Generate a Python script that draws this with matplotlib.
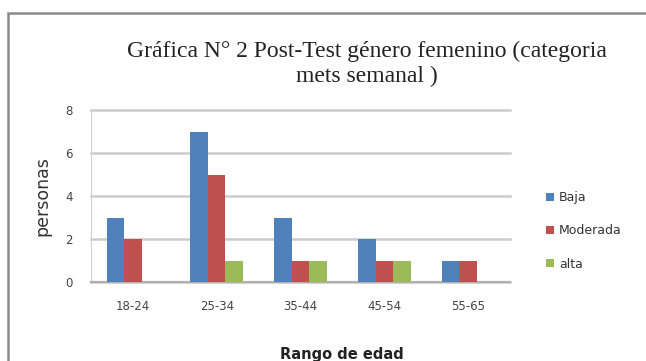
import matplotlib
matplotlib.use("Agg")
import matplotlib.pyplot as plt
import numpy as np
from matplotlib.patches import Rectangle, Patch

categories = ["18-24", "25-34", "35-44", "45-54", "55-65"]
baja = [3, 7, 3, 2, 1]
moderada = [2, 5, 1, 1, 1]
alta = [0, 1, 1, 1, 0]
series_names = ["Baja", "Moderada", "alta"]
colors = ["#4F81BD", "#C0504D", "#9BBB59"]
yticks = [0, 2, 4, 6, 8]

W, H = 646, 361
fig = plt.figure(figsize=(W / 100, H / 100), dpi=100)
fig.patch.set_facecolor("white")

# outer chart frame
fig.patches.append(Rectangle((8 / W, -0.05), 1.0, 1 - 13 / H + 0.05, transform=fig.transFigure,
                             fill=False, edgecolor="#8a8a8a", linewidth=1.8))

ax = fig.add_axes([91 / W, (H - 282) / H, 419 / W, 172 / H])
x = np.arange(len(categories))
w = 0.21
for i, (vals, c) in enumerate(zip([baja, moderada, alta], colors)):
    ax.bar(x + (i - 1) * w, vals, width=w, color=c, label=series_names[i], zorder=3)

ax.set_xlim(-0.5, len(categories) - 0.5)
ax.set_ylim(0, 8)
ax.set_yticks(yticks)
ax.set_xticks(x)
ax.set_xticklabels(categories, fontsize=8.5, color="#444444")
ax.tick_params(axis="y", labelsize=8.5, colors="#444444", length=0, pad=13)
ax.tick_params(axis="x", length=0, pad=13)
ax.grid(axis="y", color="#cccccc", linewidth=1.8, zorder=0)
for gl in ax.get_ygridlines():
    gl.set_clip_on(False)
for s in ["top", "right"]:
    ax.spines[s].set_visible(False)
ax.spines["left"].set_color("#d0d0d0")
ax.spines["bottom"].set_color("#b0b0b0")
ax.spines["bottom"].set_linewidth(1.6)

ax.set_ylabel("personas", fontsize=12.5, color="#333333", labelpad=10)
fig.text(342 / W, 1 - 354 / H, "Rango de edad", ha="center", va="center",
         fontsize=10.5, fontweight="bold", color="#222222")

fig.text(367 / W, 1 - 64 / H, "Gráfica N° 2 Post-Test género femenino (categoria\nmets semanal )",
         ha="center", va="center", fontsize=17, family="Liberation Serif", color="#222222",
         linespacing=1.2)

handles = [Patch(facecolor=c, edgecolor="none") for c in colors]
fig.legend(handles, series_names, loc="center left", bbox_to_anchor=(535 / W, 1 - 231 / H),
           frameon=False, fontsize=9, handlelength=0.6, handleheight=0.6, handletextpad=0.4,
           labelspacing=1.6, labelcolor="#333333")

fig.savefig("out.png", dpi=100, facecolor="white")
